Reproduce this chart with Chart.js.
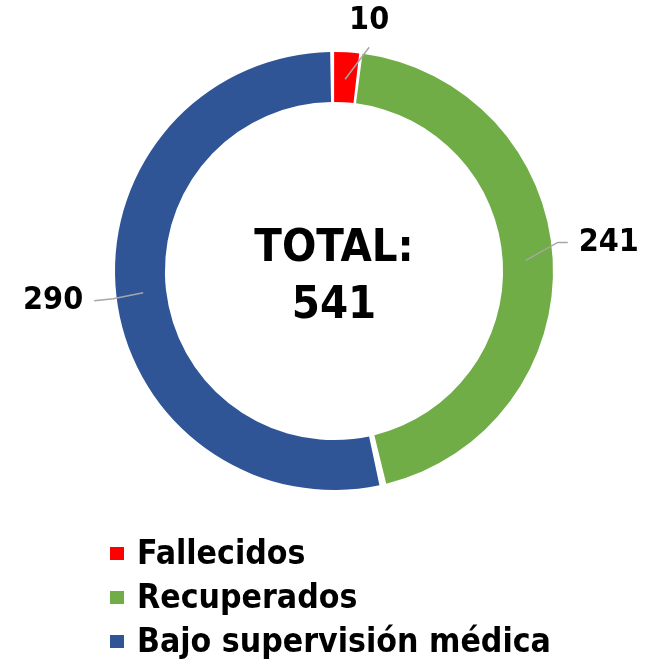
<!DOCTYPE html>
<html>
<head>
<meta charset="utf-8">
<script src="https://cdn.jsdelivr.net/npm/chart.js@4.4.1/dist/chart.umd.min.js"></script>
<style>
  html, body { margin: 0; padding: 0; background: #fff; }
  #wrap { position: relative; width: 654px; height: 664px; }
  #legend { position: absolute; left: 110px; top: 531px; margin: 0; padding: 0; list-style: none;
            font-family: "DejaVu Sans Condensed", "DejaVu Sans", sans-serif; font-weight: bold; font-size: 33.5px; color: #000; }
  #legend li { height: 44px; line-height: 44px; white-space: nowrap; }
  #legend span { display: inline-block; width: 14px; height: 13px; margin-right: 13px; vertical-align: middle; position: relative; top: -1px; }
</style>
</head>
<body>
<div id="wrap">
  <canvas id="donut" width="654" height="664"></canvas>
  <ul id="legend"></ul>
</div>
<script>
const FONT = "'DejaVu Sans Condensed', 'DejaVu Sans', sans-serif";

// data
const labels = ["Fallecidos", "Recuperados", "Bajo supervisión médica"];
const values = [10, 241, 290];
const colors = ["#ff0000", "#70ad47", "#2f5597"];
const centerLines = ["TOTAL:", "541"];

// label placement relative to the ring mid point: [elbow dx, elbow dy, end dx, end dy, text align]
const labelLayout = [
  [24, -32, 24, -32, "center"],
  [32, -18, 42, -18, "left"],
  [-30, 6, -49, 8, "right"],
];

const labelsPlugin = {
  id: "leaderLabels",
  afterDatasetsDraw(chart) {
    const ctx = chart.ctx;
    const meta = chart.getDatasetMeta(0);
    meta.data.forEach((arc, i) => {
      const p = arc.getProps(["x", "y", "startAngle", "endAngle", "innerRadius", "outerRadius"], true);
      const a = (p.startAngle + p.endAngle) / 2;
      const r = (p.innerRadius + p.outerRadius) / 2;
      const x0 = p.x + Math.cos(a) * r;
      const y0 = p.y + Math.sin(a) * r;
      const [ex, ey, tx, ty, align] = labelLayout[i];
      ctx.save();
      ctx.strokeStyle = "#a6a6a6";
      ctx.lineWidth = 1.5;
      ctx.beginPath();
      ctx.moveTo(x0, y0);
      ctx.lineTo(x0 + ex, y0 + ey);
      ctx.lineTo(x0 + tx, y0 + ty);
      ctx.stroke();
      ctx.fillStyle = "#000";
      ctx.font = "bold 32px " + FONT;
      ctx.textBaseline = "middle";
      ctx.textAlign = align;
      let lx = x0 + tx, ly = y0 + ty;
      if (align === "center") ly -= 27;
      if (align === "left") lx += 11;
      if (align === "right") lx -= 11;
      ctx.fillText(String(values[i]), lx, ly);
      ctx.restore();
    });
  },
};

const centerPlugin = {
  id: "centerText",
  afterDraw(chart) {
    const { ctx, chartArea } = chart;
    const cx = (chartArea.left + chartArea.right) / 2;
    const cy = (chartArea.top + chartArea.bottom) / 2;
    ctx.save();
    ctx.fillStyle = "#000";
    ctx.font = "bold 45px " + FONT;
    ctx.textAlign = "center";
    ctx.textBaseline = "middle";
    ctx.fillText(centerLines[0], cx, cy - 22);
    ctx.fillText(centerLines[1], cx, cy + 35);
    ctx.restore();
  },
};

new Chart(document.getElementById("donut"), {
  type: "doughnut",
  data: {
    labels,
    datasets: [{
      data: values,
      backgroundColor: colors,
      borderWidth: 0,
    }],
  },
  options: {
    responsive: false,
    animation: false,
    cutout: "77%",
    spacing: 4,
    layout: { padding: { left: 115, right: 101, top: 52, bottom: 174 } },
    plugins: { legend: { display: false }, tooltip: { enabled: false } },
  },
  plugins: [labelsPlugin, centerPlugin],
});

document.getElementById("legend").innerHTML = labels
  .map((l, i) => `<li><span style="background:${colors[i]}"></span>${l}</li>`)
  .join("");
</script>
</body>
</html>
